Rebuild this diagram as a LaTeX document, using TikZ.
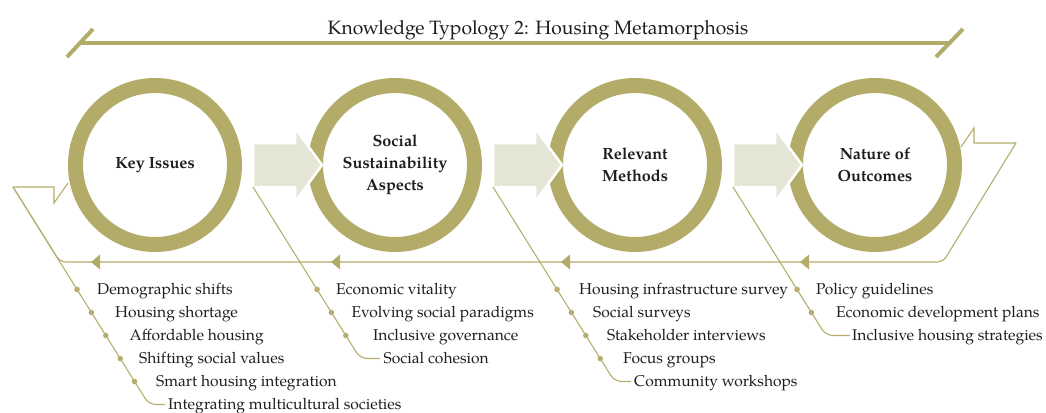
\documentclass[tikz,border=0pt]{standalone}
\usepackage{fontspec}
\setmainfont{texgyrepagella}[Extension=.otf,UprightFont=*-regular,BoldFont=*-bold,ItalicFont=*-italic,BoldItalicFont=*-bolditalic]
\definecolor{ringc}{HTML}{B3AC69}
\definecolor{linec}{HTML}{B5AE6E}
\definecolor{arrowc}{HTML}{E5E5D6}
\definecolor{txt}{HTML}{1E1E1E}
\begin{document}
\begin{tikzpicture}[x=1pt,y=-1pt,
  ringnode/.style={circle,draw=ringc,line width=15pt,minimum size=159pt,inner sep=0pt,align=center,font=\fontsize{16.2}{22}\selectfont\bfseries,text=txt},
  thinline/.style={draw=linec,line width=1.1pt},
  bar/.style={draw=ringc,line width=4pt},
  itemtext/.style={anchor=base west,inner sep=0pt,font=\fontsize{15.6}{20}\selectfont,text=txt},
  dotnode/.style={circle,fill=linec,inner sep=0pt,minimum size=5.5pt},
  tri/.style={fill=ringc},
  blockarrow/.style={fill=arrowc,draw=white,line width=2.5pt,line join=miter}
]
\useasboundingbox (0,0) rectangle (1046,412);
\fill[white] (0,0) rectangle (1046,412);

% title and top bar
\node[font=\fontsize{19.3}{22}\selectfont,anchor=base,text=txt,inner sep=0pt] (title) at (538,34.5) {Knowledge Typology 2: Housing Metamorphosis};
\coordinate (barL) at (80,43);
\coordinate (barR) at (949.5,43);
\coordinate (sl1a) at (67,57); \coordinate (sl1b) at (93,29);
\coordinate (sl2a) at (936,57); \coordinate (sl2b) at (963,29);
\draw[bar] (barL) -- (barR);
\draw[bar] (sl1a) -- (sl1b);
\draw[bar] (sl2a) -- (sl2b);

% return shape
\coordinate (n1) at (68,183); \coordinate (n2) at (54,203); \coordinate (n3) at (54,187);
\coordinate (c1) at (13,187); \coordinate (c2) at (60,262); \coordinate (c3) at (943,262); \coordinate (c4) at (1016,143);
\coordinate (m1) at (974,143); \coordinate (m2) at (974,128); \coordinate (m3) at (961,147);
\draw[thinline] (n1) -- (n2) -- (n3) -- (c1);
\draw[thinline,rounded corners=6pt] (c1) -- (c2) -- (c3) -- (c4);
\draw[thinline] (c4) -- (m1) -- (m2) -- (m3);
\fill[tri] (91,262) -- (100,254.5) -- (100,269.5) -- cycle;
\fill[tri] (331,262) -- (340,254.5) -- (340,269.5) -- cycle;
\fill[tri] (561,262) -- (570,254.5) -- (570,269.5) -- cycle;
\fill[tri] (800,262) -- (809,254.5) -- (809,269.5) -- cycle;

% rings
\node[ringnode] (r1) at (155,165) {Key Issues};
\node[ringnode] (r2) at (395,165) {Social\\Sustainability\\Aspects};
\node[ringnode] (r3) at (635,165) {Relevant\\Methods};
\node[ringnode] (r4) at (875,165) {Nature of\\Outcomes};

% block arrows
\foreach \dx in {0,240,480}{
  \path[blockarrow] (253+\dx,143) -- (295+\dx,143) -- (295+\dx,128) -- (322+\dx,165) -- (295+\dx,202) -- (295+\dx,187) -- (253+\dx,187) -- cycle;
}

% list 1
\coordinate (a0) at (13,187); \coordinate (a6) at (148.94,404.5); \coordinate (a7) at (165,404.5);
\draw[thinline,rounded corners=7pt] (a0) -- (a6) -- (a7);
\node[dotnode] (d11) at (77.06,289.5) {};
\node[dotnode] (d12) at (91.44,312.5) {};
\node[dotnode] (d13) at (105.81,335.5) {};
\node[dotnode] (d14) at (120.19,358.5) {};
\node[dotnode] (d15) at (134.56,381.5) {};
\node[itemtext] (t11) at (97,294.5) {Demographic shifts};
\node[itemtext] (t12) at (115,317.5) {Housing shortage};
\node[itemtext] (t13) at (129.5,340.5) {Affordable housing};
\node[itemtext] (t14) at (139,363.5) {Shifting social values};
\node[itemtext] (t15) at (156,386.5) {Smart housing integration};
\node[itemtext] (t16) at (168,409.5) {Integrating multicultural societies};

% list 2
\coordinate (b0) at (253,187); \coordinate (b4) at (360.19,358.5); \coordinate (b5) at (380,358.5);
\draw[thinline,rounded corners=7pt] (b0) -- (b4) -- (b5);
\node[dotnode] (d21) at (317.06,289.5) {};
\node[dotnode] (d22) at (331.44,312.5) {};
\node[dotnode] (d23) at (345.81,335.5) {};
\node[itemtext] (t21) at (336,294.5) {Economic vitality};
\node[itemtext] (t22) at (351.5,317.5) {Evolving social paradigms};
\node[itemtext] (t23) at (373,340.5) {Inclusive governance};
\node[itemtext] (t24) at (383.5,363.5) {Social cohesion};

% list 3
\coordinate (e0) at (493,187); \coordinate (e5) at (614.56,381.5); \coordinate (e6) at (631,381.5);
\draw[thinline,rounded corners=7pt] (e0) -- (e5) -- (e6);
\node[dotnode] (d31) at (557.06,289.5) {};
\node[dotnode] (d32) at (571.44,312.5) {};
\node[dotnode] (d33) at (585.81,335.5) {};
\node[dotnode] (d34) at (600.19,358.5) {};
\node[itemtext] (t31) at (579,294.5) {Housing infrastructure survey};
\node[itemtext] (t32) at (593,317.5) {Social surveys};
\node[itemtext] (t33) at (607,340.5) {Stakeholder interviews};
\node[itemtext] (t34) at (623,363.5) {Focus groups};
\node[itemtext] (t35) at (634,386.5) {Community workshops};

% list 4
\coordinate (f0) at (733,187); \coordinate (f3) at (825.81,335.5); \coordinate (f4) at (850,335.5);
\draw[thinline,rounded corners=7pt] (f0) -- (f3) -- (f4);
\node[dotnode] (d41) at (797.06,289.5) {};
\node[dotnode] (d42) at (811.44,312.5) {};
\node[itemtext] (t41) at (816,294.5) {Policy guidelines};
\node[itemtext] (t42) at (836,317.5) {Economic development plans};
\node[itemtext] (t43) at (852,340.5) {Inclusive housing strategies};
\end{tikzpicture}
\end{document}
